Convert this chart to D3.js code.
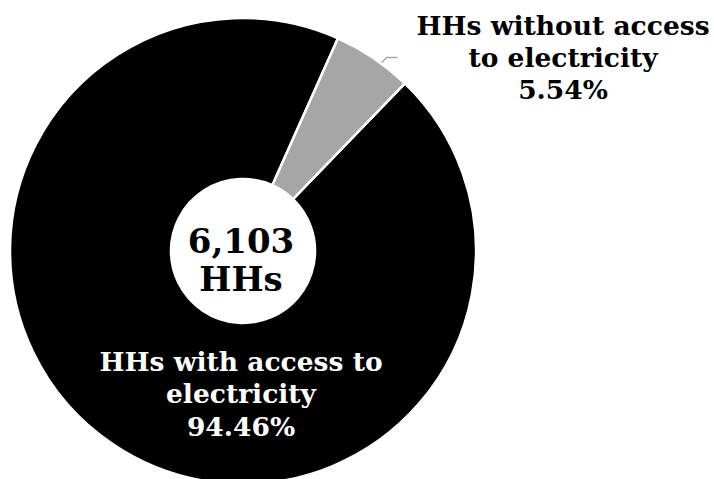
<!DOCTYPE html>
<html>
<head>
<meta charset="utf-8">
<script src="https://cdn.jsdelivr.net/npm/d3@7"></script>
<style>
  html, body { margin: 0; padding: 0; background: #fff; }
  svg { display: block; }
  text { font-family: "DejaVu Serif", serif; font-weight: bold; }
</style>
</head>
<body>
<svg id="chart" width="714" height="479"></svg>
<script>
// Household electricity access shares (percent of households)
const categories = ["HHs with access to electricity", "HHs without access to electricity"];
const shares = [94.46, 5.54];
const totalHouseholds = 6103;
const sliceColors = ["#000000", "#a6a6a6"];

const width = 714, height = 479;
const cx = 243, cy = 251;
const outerR = 233, innerR = 72;

const svg = d3.select("#chart");
const g = svg.append("g").attr("transform", `translate(${cx},${cy})`);

const startAngle = 44 * Math.PI / 180;
const pie = d3.pie().sort(null).startAngle(startAngle).endAngle(startAngle + 2 * Math.PI);
const arcs = pie(shares);
const arc = d3.arc().innerRadius(innerR).outerRadius(outerR);

g.selectAll("path.slice")
  .data(arcs)
  .join("path")
  .attr("class", "slice")
  .attr("d", arc)
  .attr("fill", (d, i) => sliceColors[i])
  .attr("stroke", "#fff")
  .attr("stroke-width", 2.5)
  .attr("stroke-linejoin", "round");

const fmtPct = v => d3.format(".2f")(v) + "%";

// Leader line for the small slice
const small = arcs[1];
const mid = (small.startAngle + small.endAngle) / 2 + 0.04;
const p0 = [Math.sin(mid) * (outerR + 1), -Math.cos(mid) * (outerR + 1)];
const p1 = [p0[0] + 5, p0[1] - 5];
const p2 = [p1[0] + 11, p1[1]];
g.append("path")
  .attr("d", d3.line()([p0, p1, p2]))
  .attr("fill", "none")
  .attr("stroke", "#a6a6a6")
  .attr("stroke-width", 1.5);

// Outside label for the small slice
const outLabel = svg.append("text")
  .attr("text-anchor", "middle")
  .attr("font-size", 26.5)
  .attr("fill", "#000");
[["HHs without access", 35], ["to electricity", 67], [fmtPct(shares[1]), 99]].forEach(([t, y]) => {
  outLabel.append("tspan").attr("x", 563).attr("y", y).text(t);
});

// Inside label for the large slice
const inLabel = svg.append("text")
  .attr("text-anchor", "middle")
  .attr("font-size", 26.5)
  .attr("fill", "#fff");
[["HHs with access to", 371], ["electricity", 403], [fmtPct(shares[0]), 436]].forEach(([t, y]) => {
  inLabel.append("tspan").attr("x", 241).attr("y", y).text(t);
});

// Total in the hole
const centerLabel = svg.append("text")
  .attr("text-anchor", "middle")
  .attr("font-size", 34)
  .attr("fill", "#000");
[[d3.format(",")(totalHouseholds), 253], ["HHs", 291]].forEach(([t, y]) => {
  centerLabel.append("tspan").attr("x", 241).attr("y", y).text(t);
});
</script>
</body>
</html>
